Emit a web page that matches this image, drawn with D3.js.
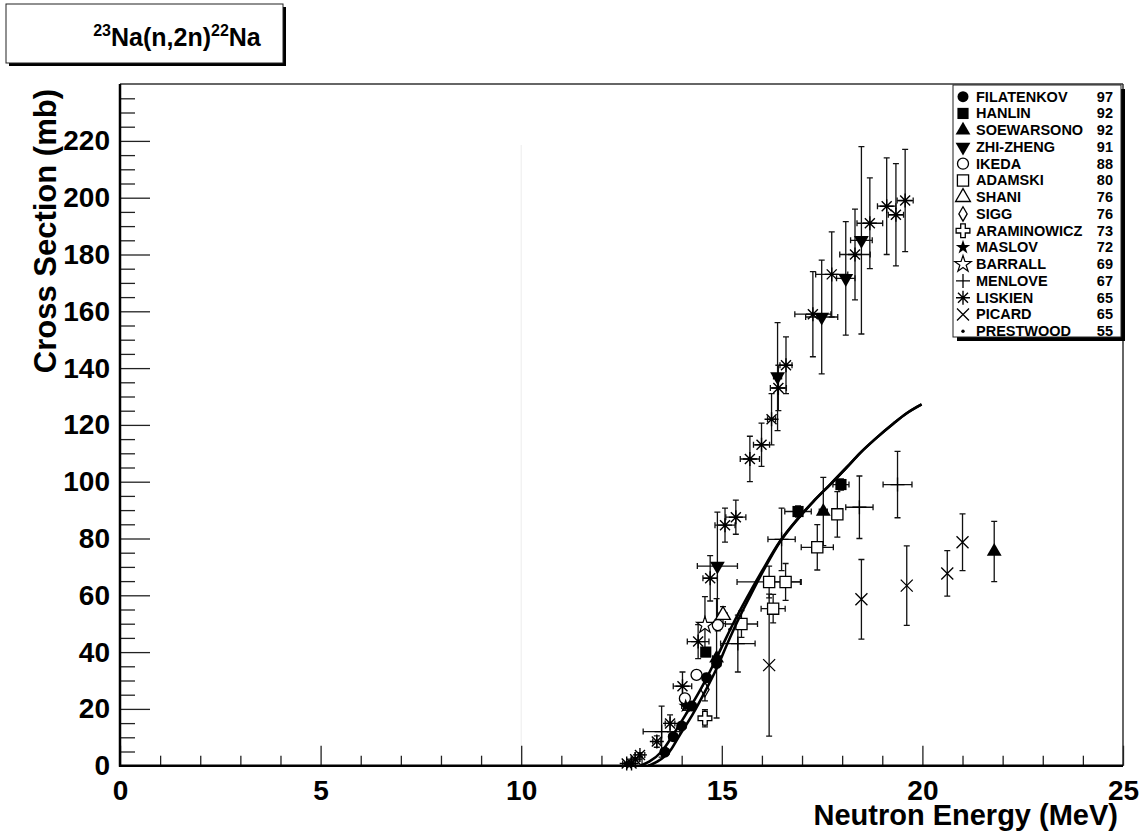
<!DOCTYPE html>
<html>
<head>
<meta charset="utf-8">
<script src="https://cdn.jsdelivr.net/npm/d3@7"></script>
<style>
  body { margin: 0; background: #fff; }
  text { font-family: "Liberation Sans", Arial, sans-serif; font-weight: bold; fill: #000; }
</style>
</head>
<body>
<script>
// data: [energy MeV, cross section mb, dE, dSigma]
const filatenkov = [[13.58, 4.8, 0.1, 1], [13.79, 10.2, 0.1, 1], [14.0, 14, 0.1, 1], [14.25, 21, 0.1, 1.2], [14.62, 31, 0.1, 1.5], [14.87, 36, 0.1, 1.5]];
const hanlin = [[14.6, 40, 0.1, 1.5], [16.9, 89.5, 0.33, 2], [17.97, 99, 0.2, 2]];
const soewarsono = [[14.87, 37.8, 0.1, 21], [17.53, 89.5, 0.1, 12], [21.79, 75.4, 0, 10.6]];
const zhiZheng = [[14.89, 70.3, 0.5, 19], [16.39, 137, 0.1, 19], [17.49, 158, 0.4, 20], [18.09, 171.6, 0.23, 20], [18.48, 185, 0.27, 33]];
const ikeda = [[14.08, 23.7, 0.1, 1.5], [14.37, 32, 0.1, 1.5], [14.9, 49.5, 0.1, 2]];
const adamski = [[15.49, 49.9, 0.4, 4.7], [16.18, 64.7, 0.8, 5.6], [16.28, 55.3, 0.3, 5], [16.59, 64.7, 0.37, 6.5], [17.38, 76.9, 0.4, 8], [17.88, 88.5, 0.1, 8]];
const shani = [[15.03, 53, 0.1, 3]];
const sigg = [[14.58, 26.8, 0, 4]];
const araminowicz = [[14.58, 16.7, 0, 3]];
const maslov = [[14.1, 21, 0.1, 1.5]];
const barrall = [[14.58, 49.5, 0, 10]];
const menlove = [[13.5, 12, 0.46, 9], [15.4, 43, 0.43, 10], [16.49, 79.7, 0.34, 11], [18.43, 91, 0.34, 11], [19.38, 99, 0.36, 11.7]];
const liskien = [[12.63, 0.8, 0.1, 0.3], [12.75, 0.8, 0.1, 0.3], [12.84, 2.3, 0.1, 0.5], [12.96, 3.8, 0.12, 0.8],
  [13.38, 8.5, 0.1, 2], [13.71, 14.9, 0.12, 3], [14.02, 28, 0.23, 5], [14.41, 43.7, 0.27, 6], [14.71, 66, 0.18, 8],
  [15.08, 84.7, 0.25, 6], [15.35, 87.5, 0.25, 6], [15.70, 108, 0.24, 8], [15.99, 113, 0.2, 7.6], [16.24, 122, 0.1, 9],
  [16.41, 133, 0.2, 8], [16.6, 141, 0.15, 10], [17.27, 159, 0.45, 15], [17.74, 173, 0.4, 15], [18.32, 180, 0.38, 16],
  [18.69, 191, 0.32, 16], [19.11, 197, 0.23, 17], [19.34, 194, 0.19, 18], [19.57, 199, 0.2, 18]];
const picard = [[16.18, 35.4, 0, 25], [18.48, 58.6, 0, 14], [19.61, 63.4, 0, 14], [20.62, 67.7, 0, 8], [21.0, 78.7, 0, 10]];
const prestwood = [[15.2, 48, 0, 0]];

// evaluated curves [energy, sigma]
const curveA = [[12.96, 0], [13.2, 1.5], [13.5, 5], [13.79, 11], [14.1, 18], [14.46, 26.6], [14.75, 34.5], [15.04, 43],
  [15.3, 50.5], [15.62, 59], [16.0, 68.5], [16.45, 79], [16.9, 87], [17.28, 93], [17.7, 99], [18.11, 105],
  [18.44, 110], [18.82, 115], [19.28, 120.5], [19.6, 124], [19.98, 127.2]];
const curveB = [[13.17, 0], [13.4, 1.5], [13.7, 5], [13.96, 11], [14.27, 18], [14.6, 26.6], [14.88, 34.5], [15.14, 43],
  [15.38, 50.5], [15.68, 59], [16.03, 68.5], [16.46, 79], [16.9, 87], [17.28, 93], [17.7, 99], [18.11, 105],
  [18.44, 110], [18.82, 115], [19.28, 120.5], [19.6, 124], [19.98, 127.2]];

const seriesNames = ["FILATENKOV", "HANLIN", "SOEWARSONO", "ZHI-ZHENG", "IKEDA", "ADAMSKI", "SHANI", "SIGG",
  "ARAMINOWICZ", "MASLOV", "BARRALL", "MENLOVE", "LISKIEN", "PICARD", "PRESTWOOD"];
const seriesYears = ["97", "92", "92", "91", "88", "80", "76", "76", "73", "72", "69", "67", "65", "65", "55"];
const seriesMarkers = ["fcircle", "fsquare", "ftri", "fdtri", "ocircle", "osquare", "otri", "odiamond",
  "ocross", "fstar", "ostar", "plus", "aster", "xmark", "dot"];
const seriesData = [filatenkov, hanlin, soewarsono, zhiZheng, ikeda, adamski, shani, sigg,
  araminowicz, maslov, barrall, menlove, liskien, picard, prestwood];

const xMajor = [0, 5, 10, 15, 20, 25];
const yMajor = [0, 20, 40, 60, 80, 100, 120, 140, 160, 180, 200, 220];

const width = 1146, height = 838;
const svg = d3.select("body").append("svg").attr("width", width).attr("height", height);
svg.append("rect").attr("width", width).attr("height", height).attr("fill", "#fff");

const x = d3.scaleLinear().domain([0, 25]).range([120, 1123]);
const y = d3.scaleLinear().domain([0, 240]).range([765.7, 84.1]);

// faint line at 10 MeV
svg.append("line").attr("x1", x(10)).attr("x2", x(10)).attr("y1", 145).attr("y2", y(0))
  .attr("stroke", "#ececec").attr("stroke-width", 1);

// frame top/right
svg.append("line").attr("x1", 120).attr("x2", 1123).attr("y1", y(240)).attr("y2", y(240)).attr("stroke", "#333").attr("stroke-width", 1.5);
svg.append("line").attr("x1", 1123).attr("x2", 1123).attr("y1", y(240)).attr("y2", y(0)).attr("stroke", "#333").attr("stroke-width", 1.5);

// x axis: minor then major
const xMinorAxis = d3.axisBottom(x).tickValues(d3.range(0, 26).filter(d => d % 5 !== 0)).tickSize(-10).tickFormat("");
const xMajorAxis = d3.axisBottom(x).tickValues(xMajor).tickSize(-20).tickPadding(14).tickFormat(d3.format("d"));
const gx1 = svg.append("g").attr("transform", `translate(0,${y(0)})`).call(xMinorAxis);
const gx2 = svg.append("g").attr("transform", `translate(0,${y(0)})`).call(xMajorAxis);
[gx1, gx2].forEach(g => { g.select(".domain").remove(); g.selectAll(".tick line").attr("stroke", "#222").attr("stroke-width", 1.3); });
gx2.selectAll("text").style("font-size", "28px").attr("fill", "#000");

// y axis
const yMinorAxis = d3.axisLeft(y).tickValues(d3.range(0, 241, 5).filter(d => d % 20 !== 0)).tickSize(-15).tickFormat("");
const yMajorAxis = d3.axisLeft(y).tickValues(yMajor).tickSize(-30).tickPadding(10).tickFormat(d3.format("d"));
const gy1 = svg.append("g").attr("transform", "translate(120,0)").call(yMinorAxis);
const gy2 = svg.append("g").attr("transform", "translate(120,0)").call(yMajorAxis);
[gy1, gy2].forEach(g => { g.select(".domain").remove(); g.selectAll(".tick line").attr("stroke", "#222").attr("stroke-width", 1.3); });
gy2.selectAll("text").style("font-size", "28px").attr("fill", "#000");

// thick left and bottom axis lines
svg.append("line").attr("x1", 120).attr("x2", 120).attr("y1", y(240)).attr("y2", y(0) + 1).attr("stroke", "#000").attr("stroke-width", 2.5);
svg.append("line").attr("x1", 119).attr("x2", 1123).attr("y1", y(0)).attr("y2", y(0)).attr("stroke", "#000").attr("stroke-width", 2.5);

// axis titles
svg.append("text").attr("x", 1118).attr("y", 825).attr("text-anchor", "end").style("font-size", "29px").text("Neutron Energy (MeV)");
svg.append("text").attr("transform", "translate(56,89) rotate(-90)").attr("text-anchor", "end").style("font-size", "31px").text("Cross Section (mb)");

// marker drawing
function marker(g, type) {
  const sym = (t, a) => d3.symbol().type(t).size(a)();
  switch (type) {
    case "fcircle": g.append("path").attr("d", sym(d3.symbolCircle, 95)).attr("fill", "#000"); break;
    case "fsquare": g.append("path").attr("d", sym(d3.symbolSquare, 125)).attr("fill", "#000"); break;
    case "ftri": g.append("path").attr("d", sym(d3.symbolTriangle, 95)).attr("fill", "#000"); break;
    case "fdtri": g.append("path").attr("d", sym(d3.symbolTriangle, 95)).attr("transform", "rotate(180)").attr("fill", "#000"); break;
    case "ocircle": g.append("path").attr("d", sym(d3.symbolCircle, 95)).attr("fill", "#fff").attr("stroke", "#000").attr("stroke-width", 1.3); break;
    case "osquare": g.append("path").attr("d", sym(d3.symbolSquare, 125)).attr("fill", "#fff").attr("stroke", "#000").attr("stroke-width", 1.3); break;
    case "otri": g.append("path").attr("d", sym(d3.symbolTriangle, 95)).attr("fill", "#fff").attr("stroke", "#000").attr("stroke-width", 1.3); break;
    case "odiamond": g.append("path").attr("d", sym(d3.symbolDiamond, 60)).attr("fill", "#fff").attr("stroke", "#000").attr("stroke-width", 1.3); break;
    case "ocross": g.append("path").attr("d", sym(d3.symbolCross, 105)).attr("fill", "#fff").attr("stroke", "#000").attr("stroke-width", 1.3); break;
    case "fstar": g.append("path").attr("d", sym(d3.symbolStar, 65)).attr("fill", "#000"); break;
    case "ostar": g.append("path").attr("d", sym(d3.symbolStar, 85)).attr("fill", "#fff").attr("stroke", "#000").attr("stroke-width", 1.2); break;
    case "plus": g.append("path").attr("d", "M-7,0H7M0,-7V7").attr("stroke", "#000").attr("stroke-width", 1.3); break;
    case "aster": g.append("path").attr("d", "M-7,0H7M0,-7V7M-5,-5L5,5M-5,5L5,-5").attr("stroke", "#000").attr("stroke-width", 1.4); break;
    case "xmark": g.append("path").attr("d", "M-6,-6L6,6M-6,6L6,-6").attr("stroke", "#000").attr("stroke-width", 1.3); break;
    case "dot": g.append("circle").attr("r", 1.7).attr("fill", "#000"); break;
  }
}

// error bars
const plot = svg.append("g");
seriesData.forEach(data => {
  const eg = plot.append("g");
  data.forEach(d => {
    const cx = x(d[0]), cy = y(d[1]);
    if (d[3] > 0) {
      const y1 = y(d[1] + d[3]), y2 = y(Math.max(0, d[1] - d[3]));
      eg.append("path").attr("d", `M${cx},${y1}V${y2}M${cx - 3},${y1}H${cx + 3}M${cx - 3},${y2}H${cx + 3}`)
        .attr("stroke", "#111").attr("stroke-width", 1.3).attr("fill", "none");
    }
    if (d[2] > 0) {
      const x1 = x(d[0] - d[2]), x2 = x(d[0] + d[2]);
      eg.append("path").attr("d", `M${x1},${cy}H${x2}M${x1},${cy - 3}V${cy + 3}M${x2},${cy - 3}V${cy + 3}`)
        .attr("stroke", "#111").attr("stroke-width", 1.3).attr("fill", "none");
    }
  });
});
// markers
seriesData.forEach((data, si) => {
  data.forEach(d => {
    const g = plot.append("g").attr("transform", `translate(${x(d[0])},${y(d[1])})`);
    marker(g, seriesMarkers[si]);
  });
});

// evaluation curves
const line = d3.line().x(d => x(d[0])).y(d => y(d[1])).curve(d3.curveMonotoneX);
[curveA, curveB].forEach(c => {
  svg.append("path").datum(c).attr("d", line).attr("fill", "none").attr("stroke", "#000").attr("stroke-width", 2.6);
});

// legend
svg.append("rect").attr("x", 957).attr("y", 89).attr("width", 168).attr("height", 252).attr("fill", "#000");
svg.append("rect").attr("x", 953).attr("y", 85).attr("width", 168).attr("height", 252).attr("fill", "#fff")
  .attr("stroke", "#222").attr("stroke-width", 1);
seriesNames.forEach((name, i) => {
  const ry = 96.7 + i * 16.75;
  const g = svg.append("g").attr("transform", `translate(963,${ry})`);
  marker(g, seriesMarkers[i]);
  svg.append("text").attr("x", 976).attr("y", ry + 5).style("font-size", "14.5px").text(name);
  svg.append("text").attr("x", 1113).attr("y", ry + 5).attr("text-anchor", "end").style("font-size", "14.5px").text(seriesYears[i]);
});

// title box
svg.append("rect").attr("x", 9).attr("y", 7).attr("width", 277).attr("height", 59).attr("fill", "#000");
svg.append("rect").attr("x", 6).attr("y", 4).attr("width", 277).attr("height", 59).attr("fill", "#fff")
  .attr("stroke", "#222").attr("stroke-width", 1);
const title = svg.append("text").attr("x", 177).attr("y", 46).attr("text-anchor", "middle").style("font-size", "25px");
title.append("tspan").style("font-size", "16px").attr("dy", -10).text("23");
title.append("tspan").attr("dy", 10).text("Na(n,2n)");
title.append("tspan").style("font-size", "16px").attr("dy", -10).text("22");
title.append("tspan").attr("dy", 10).text("Na");
</script>
</body>
</html>
